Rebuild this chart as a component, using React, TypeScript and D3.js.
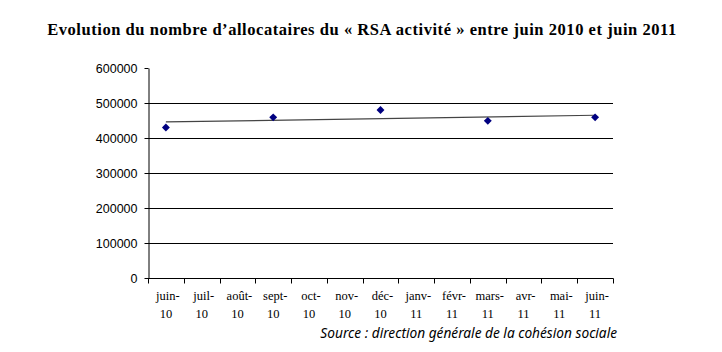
import React, { useRef, useEffect } from 'react';
import * as d3 from 'd3';

const months = ['juin-10', 'juil-10', 'août-10', 'sept-10', 'oct-10', 'nov-10', 'déc-10',
  'janv-11', 'févr-11', 'mars-11', 'avr-11', 'mai-11', 'juin-11'];
// quarterly observations
const obsMonths = ['juin-10', 'sept-10', 'déc-10', 'mars-11', 'juin-11'];
const obsValues = [430000, 459000, 480000, 449000, 459000];
const yTicks = [0, 100000, 200000, 300000, 400000, 500000, 600000];

const W = 722;
const H = 352;

export default function App() {
  const svgRef = useRef<SVGSVGElement>(null);

  useEffect(() => {
    if (!svgRef.current) return;
    const svg = d3.select(svgRef.current);
    svg.selectAll('*').remove();

    const left = 148, right = 613, top = 68, bottom = 278;

    const x = d3.scaleBand().domain(months).range([left, right]);
    const y = d3.scaleLinear().domain([0, 600000]).range([bottom, top]);
    const cx = (m: string) => (x(m) as number) + x.bandwidth() / 2;

    // title
    svg.append('text')
      .attr('x', 362).attr('y', 35)
      .attr('text-anchor', 'middle')
      .attr('font-family', '"Liberation Serif", "Times New Roman", serif')
      .attr('font-weight', 'bold')
      .attr('font-size', '16.5px')
      .attr('letter-spacing', '0.55px')
      .text('Evolution du nombre d\u2019allocataires du \u00ab RSA activit\u00e9 \u00bb entre juin 2010 et juin 2011');

    // gridlines
    svg.append('g').selectAll('line')
      .data(yTicks.filter(t => t > 0 && t < 600000))
      .enter().append('line')
      .attr('x1', left).attr('x2', right)
      .attr('y1', d => Math.round(y(d)) + 0.5).attr('y2', d => Math.round(y(d)) + 0.5)
      .attr('stroke', '#000').attr('stroke-width', 1);

    // y axis
    const yAxis = svg.append('g')
      .attr('transform', `translate(${left + 0.5},0)`)
      .call(d3.axisLeft(y).tickValues(yTicks).tickSize(4).tickSizeOuter(0).tickFormat(d3.format('d')));
    yAxis.selectAll('text')
      .attr('font-family', '"Liberation Sans", Arial, sans-serif')
      .attr('font-size', '12.5px')
      .attr('fill', '#000')
      .attr('x', -11)
      .attr('dy', '0.35em');
    yAxis.selectAll('line, path').attr('stroke', '#000');

    // x axis
    const xAxis = svg.append('g').attr('transform', `translate(0,${Math.round(bottom) + 0.5})`);
    xAxis.append('line')
      .attr('x1', left).attr('x2', right + 0.5).attr('y1', 0).attr('y2', 0)
      .attr('stroke', '#000');
    const bounds = months.map(m => x(m) as number).concat([right]);
    xAxis.selectAll('line.tick')
      .data(bounds)
      .enter().append('line')
      .attr('class', 'tick')
      .attr('x1', d => Math.round(d) + 0.5).attr('x2', d => Math.round(d) + 0.5)
      .attr('y1', 0).attr('y2', 5)
      .attr('stroke', '#000');
    const labels = xAxis.selectAll('text')
      .data(months)
      .enter().append('text')
      .attr('text-anchor', 'middle')
      .attr('font-family', '"Liberation Serif", "Times New Roman", serif')
      .attr('font-size', '12.5px')
      .attr('fill', '#000');
    labels.append('tspan')
      .attr('x', d => cx(d) + 2).attr('y', 21)
      .text(d => d.split('-')[0] + '-');
    labels.append('tspan')
      .attr('x', d => cx(d)).attr('y', 39)
      .text(d => d.split('-')[1]);

    // linear trend of the observations
    const xi = obsMonths.map(m => months.indexOf(m));
    const mx = d3.mean(xi) as number;
    const my = d3.mean(obsValues) as number;
    const slope = d3.sum(xi, (v, i) => (v - mx) * (obsValues[i] - my)) / d3.sum(xi, v => (v - mx) ** 2);
    const trend = (i: number) => my + slope * (i - mx);
    svg.append('line')
      .attr('x1', cx(months[0])).attr('x2', cx(months[months.length - 1]))
      .attr('y1', y(trend(0))).attr('y2', y(trend(months.length - 1)))
      .attr('stroke', '#444').attr('stroke-width', 1.2);

    // markers
    svg.append('g').selectAll('path')
      .data(obsMonths.map((m, i) => ({ m, v: obsValues[i] })))
      .enter().append('path')
      .attr('d', d3.symbol().type(d3.symbolDiamond2).size(40))
      .attr('transform', d => `translate(${cx(d.m)},${y(d.v)})`)
      .attr('fill', '#000080');

    // source
    svg.append('text')
      .attr('x', 617).attr('y', 338)
      .attr('text-anchor', 'end')
      .attr('font-family', '"Noto Sans", "DejaVu Sans", sans-serif')
      .attr('font-style', 'italic')
      .attr('font-size', '13.7px')
      .attr('fill', '#000')
      .text('Source : direction g\u00e9n\u00e9rale de la coh\u00e9sion sociale');
  }, []);

  return (
    <div style={{ width: W, height: H, margin: -8, background: '#fff' }}>
      <svg ref={svgRef} width={W} height={H} style={{ display: 'block' }}></svg>
    </div>
  );
}
